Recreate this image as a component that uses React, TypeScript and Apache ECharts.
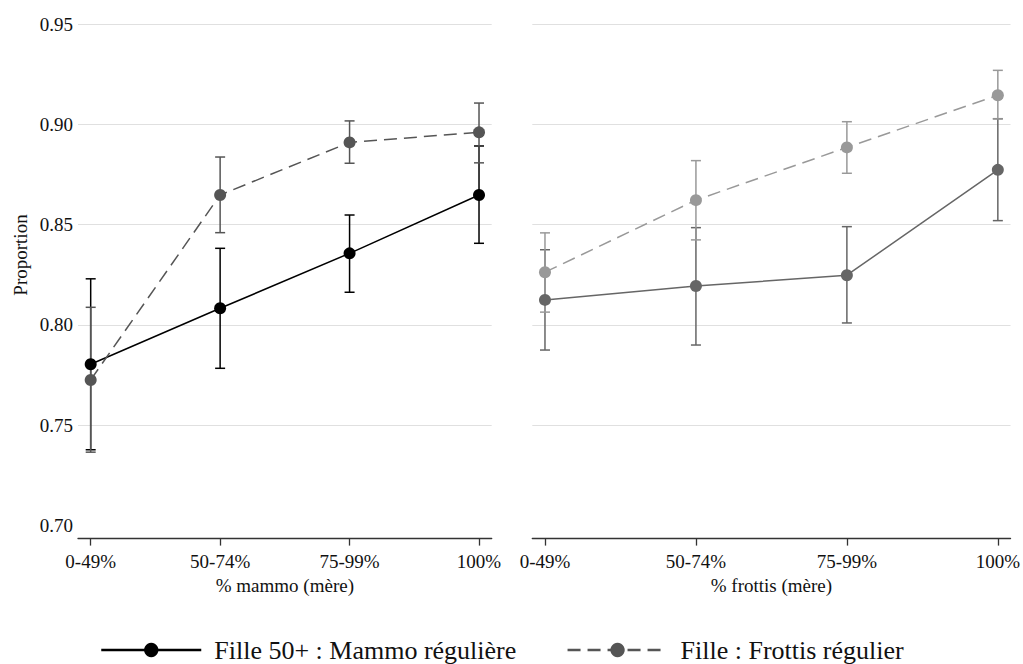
import React, { useEffect, useRef } from "react";
import * as echarts from "echarts";

const categories = ["0-49%", "50-74%", "75-99%", "100%"];
const yTickValues = [0.7, 0.75, 0.8, 0.85, 0.9, 0.95];

const seriesNames = ["Fille 50+ : Mammo régulière", "Fille : Frottis régulier"];
const panelTitles = ["% mammo (mère)", "% frottis (mère)"];

// Left panel: % mammo (mère)
const leftMammoMean = [0.7804, 0.8083, 0.8357, 0.8648];
const leftMammoLow = [0.7378, 0.7784, 0.8163, 0.8407];
const leftMammoHigh = [0.823, 0.8382, 0.8548, 0.8892];

const leftFrottisMean = [0.7726, 0.8648, 0.891, 0.896];
const leftFrottisLow = [0.7366, 0.846, 0.8806, 0.8808];
const leftFrottisHigh = [0.8088, 0.8837, 0.9017, 0.9106];

// Right panel: % frottis (mère)
const rightMammoMean = [0.8125, 0.8194, 0.8248, 0.8773];
const rightMammoLow = [0.7875, 0.79, 0.801, 0.852];
const rightMammoHigh = [0.8375, 0.8485, 0.849, 0.9028];

const rightFrottisMean = [0.8263, 0.8622, 0.8885, 0.9145];
const rightFrottisLow = [0.8064, 0.8424, 0.8756, 0.9027];
const rightFrottisHigh = [0.8459, 0.8819, 0.9013, 0.9269];

const FONT = '"Liberation Serif", "Times New Roman", serif';

function lineSeries(name: string, mean: number[], color: string, dashed: boolean, idx: number) {
  return {
    type: "line",
    name,
    xAxisIndex: idx,
    yAxisIndex: idx,
    data: mean.map((v, i) => [i, v]),
    symbol: "circle",
    symbolSize: 12,
    itemStyle: { color },
    lineStyle: { color, width: 1.5, type: dashed ? [13, 7] : "solid" },
    z: 3,
  };
}

function errorSeries(low: number[], high: number[], color: string, idx: number) {
  return {
    type: "custom",
    xAxisIndex: idx,
    yAxisIndex: idx,
    data: low.map((l, i) => [i, l, high[i]]),
    encode: { x: 0, y: [1, 2] },
    z: 2,
    renderItem: (params: any, api: any) => {
      const x = api.value(0);
      const pLo = api.coord([x, api.value(1)]);
      const pHi = api.coord([x, api.value(2)]);
      const hw = 5;
      const style = { stroke: color, lineWidth: 1.5, fill: "none" };
      return {
        type: "group",
        children: [
          { type: "line", shape: { x1: pLo[0], y1: pLo[1], x2: pHi[0], y2: pHi[1] }, style },
          { type: "line", shape: { x1: pLo[0] - hw, y1: pLo[1], x2: pLo[0] + hw, y2: pLo[1] }, style },
          { type: "line", shape: { x1: pHi[0] - hw, y1: pHi[1], x2: pHi[0] + hw, y2: pHi[1] }, style },
        ],
      };
    },
  };
}

function xAxisFor(idx: number, pad: number) {
  return {
    type: "value",
    gridIndex: idx,
    min: -pad,
    max: 3 + pad,
    offset: 13,
    axisLine: { show: true, lineStyle: { color: "#333", width: 1.3 } },
    axisTick: { show: true, customValues: [0, 1, 2, 3], length: 7, lineStyle: { color: "#333", width: 1.3 } },
    axisLabel: {
      customValues: [0, 1, 2, 3],
      formatter: (v: number) => categories[Math.round(v)] ?? "",
      margin: 13,
      fontSize: 19,
      fontFamily: FONT,
      color: "#111",
    },
    splitLine: { show: false },
    name: panelTitles[idx],
    nameLocation: "middle",
    nameGap: 35,
    nameTextStyle: { fontSize: 19, fontFamily: FONT, color: "#111" },
  };
}

function yAxisFor(idx: number, showLabels: boolean) {
  return {
    type: "value",
    gridIndex: idx,
    min: 0.7,
    max: 0.95,
    interval: 0.05,
    axisLine: { show: false },
    axisTick: { show: false },
    axisLabel: {
      show: showLabels,
      formatter: (v: number) => (yTickValues.some((t) => Math.abs(t - v) < 1e-6) ? v.toFixed(2) : ""),
      margin: 5,
      fontSize: 19,
      fontFamily: FONT,
      color: "#111",
    },
    splitLine: { show: true, showMinLine: false, lineStyle: { color: "#e0e0e0", width: 1 } },
  };
}

export default function App() {
  const ref = useRef<HTMLDivElement>(null);
  useEffect(() => {
    if (!ref.current) return;
    const chart = echarts.init(ref.current, null, { renderer: "svg" });
    chart.setOption({
      animation: false,
      backgroundColor: "#fff",
      textStyle: { fontFamily: FONT },
      grid: [
        { left: 78, top: 24, width: 413.7, height: 501.6 },
        { left: 532.3, top: 24, width: 479.4, height: 501.6 },
      ],
      xAxis: [xAxisFor(0, 0.098), xAxisFor(1, 0.084)],
      yAxis: [yAxisFor(0, true), yAxisFor(1, false)],
      legend: {
        data: seriesNames,
        left: 95,
        top: 632,
        itemWidth: 100,
        itemHeight: 18,
        itemGap: 50,
        lineStyle: { width: 2.5 },
        textStyle: { fontSize: 26, fontFamily: FONT, color: "#111", padding: [0, 0, 0, 8] },
      },
      graphic: [
        {
          type: "text",
          x: 20,
          y: 255,
          rotation: Math.PI / 2,
          style: {
            text: "Proportion",
            fontSize: 19,
            fontFamily: FONT,
            fill: "#111",
            align: "center",
            verticalAlign: "middle",
          },
        },
      ],
      series: [
        errorSeries(leftMammoLow, leftMammoHigh, "#000", 0),
        errorSeries(leftFrottisLow, leftFrottisHigh, "#555", 0),
        lineSeries(seriesNames[0], leftMammoMean, "#000", false, 0),
        lineSeries(seriesNames[1], leftFrottisMean, "#555", true, 0),
        errorSeries(rightMammoLow, rightMammoHigh, "#666", 1),
        errorSeries(rightFrottisLow, rightFrottisHigh, "#999", 1),
        lineSeries(seriesNames[0], rightMammoMean, "#666", false, 1),
        lineSeries(seriesNames[1], rightFrottisMean, "#999", true, 1),
      ],
    });
    return () => chart.dispose();
  }, []);
  return (
    <div
      ref={ref}
      style={{ position: "fixed", left: 0, top: 0, width: 1023, height: 664, background: "#fff" }}
    />
  );
}
